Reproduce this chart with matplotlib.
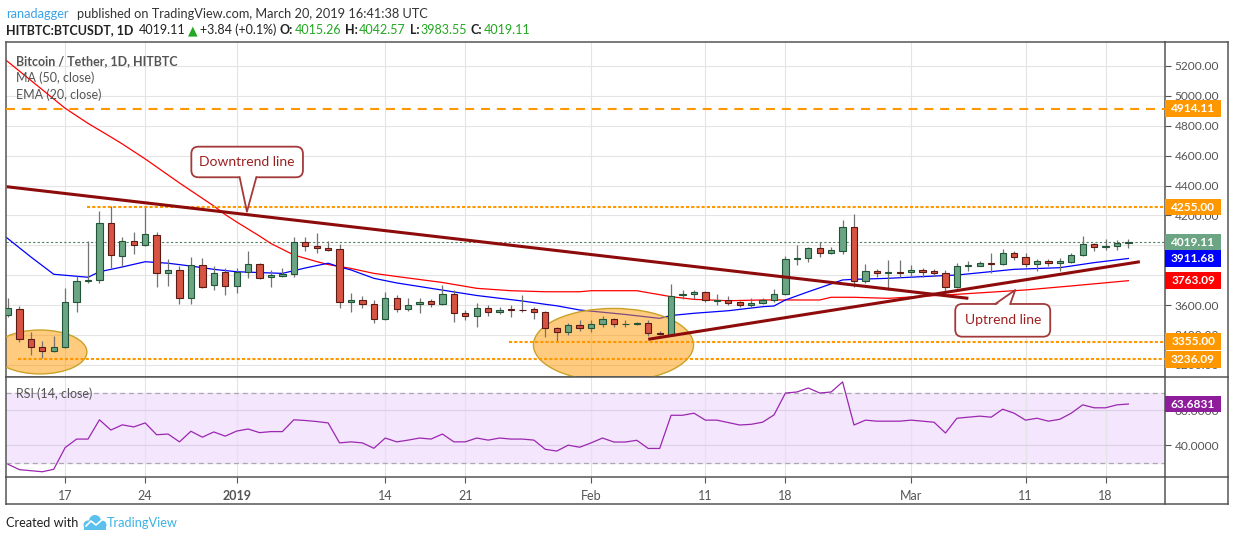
import matplotlib
matplotlib.use('Agg')
import matplotlib.pyplot as plt
from matplotlib.patches import Rectangle, Ellipse, FancyBboxPatch, Polygon, Circle
from matplotlib.lines import Line2D
import matplotlib.transforms as mtransforms
import pandas as pd

plt.rcParams['font.family'] = ['Lato', 'DejaVu Sans']

# ---------------- data ----------------
dates = pd.date_range('2018-12-12', '2019-03-20', freq='D')

opens = [3533, 3572, 3371, 3317, 3290, 3321, 3618, 3759, 3768, 4147,
         3926, 4027, 4000, 4067, 3813, 3835, 3645, 3866, 3732, 3821,
         3725, 3819, 3873, 3786, 3797, 3806, 4020, 3993, 3984, 3973,
         3618, 3632, 3605, 3505, 3645, 3572, 3605, 3627, 3605, 3674,
         3545, 3529, 3578, 3556, 3574, 3570, 3574, 3552, 3445, 3418,
         3465, 3445, 3472, 3505, 3470, 3472, 3478, 3411, 3400, 3665,
         3672, 3687, 3630, 3634, 3618, 3600, 3612, 3634, 3672, 3906,
         3913, 3980, 3946, 3964, 4120, 3759, 3826, 3813, 3821, 3818,
         3833, 3828, 3812, 3723, 3860, 3864, 3884, 3873, 3946, 3920,
         3873, 3895, 3880, 3888, 3935, 4009, 3987, 3995, 4015.26]
highs = [3645, 3594, 3418, 3359, 3393, 3712, 3794, 4029, 4228, 4263,
         4058, 4091, 4263, 4087, 3906, 3861, 3920, 3913, 3861, 3846,
         3846, 3962, 3880, 3835, 3850, 4053, 4053, 4080, 4030, 4009,
         3679, 3660, 3634, 3685, 3665, 3645, 3645, 3640, 3734, 3701,
         3567, 3614, 3600, 3585, 3600, 3667, 3585, 3562, 3456, 3478,
         3500, 3500, 3527, 3515, 3500, 3485, 3500, 3425, 3741, 3700,
         3700, 3695, 3674, 3660, 3627, 3650, 3650, 3705, 3928, 4002,
         3991, 4024, 3991, 4169, 4210, 3875, 3840, 3902, 3902, 3868,
         3850, 3840, 3835, 3884, 3896, 3896, 3946, 3973, 3960, 3946,
         3906, 3905, 3913, 3950, 4062, 4018, 4040, 4035, 4042.57]
lows = [3520, 3355, 3266, 3247, 3285, 3315, 3551, 3745, 3750, 3850,
        3863, 3944, 3995, 3723, 3727, 3607, 3607, 3712, 3701, 3667,
        3678, 3779, 3775, 3723, 3790, 3786, 3964, 3946, 3960, 3582,
        3556, 3580, 3482, 3500, 3555, 3562, 3549, 3585, 3600, 3489,
        3500, 3455, 3527, 3540, 3522, 3556, 3509, 3388, 3362, 3402,
        3426, 3420, 3456, 3450, 3452, 3465, 3393, 3400, 3398, 3641,
        3640, 3618, 3600, 3600, 3585, 3590, 3605, 3620, 3665, 3868,
        3890, 3920, 3940, 3942, 3719, 3750, 3790, 3701, 3790, 3790,
        3790, 3795, 3679, 3712, 3830, 3860, 3817, 3865, 3900, 3857,
        3828, 3860, 3830, 3880, 3930, 3964, 3968, 3968, 3983.55]
closes = [3578, 3371, 3317, 3290, 3317, 3618, 3759, 3768, 4147, 3933,
          4027, 4000, 4076, 3813, 3835, 3645, 3866, 3719, 3812, 3725,
          3821, 3873, 3779, 3799, 3806, 4020, 3993, 3984, 3966, 3618,
          3632, 3605, 3505, 3645, 3572, 3600, 3620, 3605, 3674, 3545,
          3529, 3578, 3556, 3570, 3569, 3566, 3552, 3445, 3418, 3465,
          3445, 3472, 3505, 3472, 3474, 3478, 3411, 3404, 3659, 3674,
          3687, 3634, 3634, 3616, 3600, 3612, 3634, 3672, 3906, 3913,
          3980, 3946, 3968, 4120, 3759, 3826, 3812, 3821, 3816, 3835,
          3820, 3812, 3723, 3861, 3868, 3884, 3878, 3946, 3920, 3873,
          3895, 3880, 3893, 3935, 4009, 3987, 3995, 4015, 4019.11]

# MA(50) read at candle positions
ma50_pos = [-1, 0, 5, 7, 9, 10, 12, 15, 18, 19, 20, 22, 23, 25, 27, 28, 30, 32,
            34, 38, 41, 44, 47, 50, 51, 55, 58, 60, 63, 66, 71, 72, 74, 77,
            83, 89, 93, 98]
ma50_val = [5290, 5228, 4917, 4816, 4725, 4678, 4578, 4417, 4263, 4206, 4156,
            4062, 4012, 3935, 3891, 3871, 3845, 3812, 3791, 3751, 3712, 3696,
            3689, 3689, 3696, 3696, 3656, 3638, 3629, 3634, 3634, 3652, 3652,
            3645, 3672, 3701, 3728, 3763.09]

# EMA(20) read at candle positions
ema20_pos = [-1, 0, 2, 4, 7, 8, 10, 12, 14, 16, 18, 20, 24, 26, 28, 29, 30, 32,
             34, 37, 41, 45, 47, 48, 50, 54, 57, 58, 60, 63, 66, 67, 68, 70,
             73, 74, 77, 81, 83, 88, 92, 95, 98]
ema20_val = [4100, 4044, 3922, 3806, 3786, 3823, 3855, 3890, 3880, 3861, 3839,
             3823, 3812, 3848, 3880, 3855, 3835, 3779, 3748, 3712, 3664, 3627,
             3605, 3595, 3567, 3537, 3511, 3530, 3545, 3562, 3589, 3594, 3634,
             3689, 3768, 3772, 3779, 3794, 3801, 3839, 3850, 3884, 3911.68]

# RSI(14)
rsi14 = [29.0, 25.9, 25.3, 24.7, 26.1, 38.6, 43.5, 43.5, 54.6, 48.7,
         51.7, 50.5, 52.8, 46.0, 46.4, 41.9, 48.0, 44.6, 47.6, 45.2,
         48.1, 49.3, 47.2, 47.8, 47.8, 54.6, 54.2, 53.6, 52.8, 41.3,
         41.9, 41.3, 38.2, 44.1, 41.9, 42.9, 44.1, 43.5, 46.4, 41.9,
         41.9, 44.1, 42.9, 44.1, 43.5, 43.5, 42.9, 37.6, 36.6, 40.0,
         38.8, 41.3, 44.1, 41.8, 41.8, 42.8, 38.1, 38.1, 57.2, 57.2,
         58.4, 54.4, 54.4, 53.0, 51.6, 52.0, 53.2, 57.4, 70.0, 70.6,
         72.9, 70.0, 70.6, 76.4, 51.6, 54.4, 53.8, 53.8, 53.8, 54.4,
         53.8, 53.2, 47.0, 55.5, 56.1, 56.7, 56.1, 60.7, 58.4, 54.4,
         55.5, 53.8, 54.9, 58.4, 63.2, 61.5, 61.5, 63.2, 63.6831]
rsi_upper, rsi_lower = 70, 30

tick_dates = ['2018-12-17', '2018-12-24', '2019-01-01', '2019-01-14', '2019-01-21',
              '2019-02-01', '2019-02-11', '2019-02-18', '2019-03-01', '2019-03-11',
              '2019-03-18']
tick_labels = ['17', '24', '2019', '14', '21', 'Feb', '11', '18', 'Mar', '11', '18']
price_ticks = [3200, 3400, 3600, 3800, 4000, 4200, 4400, 4600, 4800, 5000, 5200]
hidden_price_ticks = [4000]   # fully covered by the last-price tag in the reference

# horizontal levels: (value, start position, style)
level_values = [4914.11, 4255.00, 3355.00, 3236.09]
level_starts = [-0.2, 6.9, 43.8, 0.9]
level_dashed = [True, False, False, False]

# trend lines (position, price)
downtrend = [(-0.11, 4392), (84.0, 3645)]
uptrend = [(56.0, 3371), (99.0, 3890)]

# highlighted zones (centre position, centre price, width, height)
zones = [(2.8, 3286, 8.2, 294), (52.96, 3333, 14.0, 489)]

last_price = 4019.11

# ---------------- figure ----------------
W, H = 1234, 541
fig = plt.figure(figsize=(W / 100, H / 100), dpi=100)
fig.patch.set_facecolor('white')
renderer = fig.canvas.get_renderer()


def fx(x):
    return x / W


def fy(y):
    return 1 - y / H


L, R, T, M, B2, B3, RR = 6, 1165, 42, 376.7, 477.3, 504, 1228
SP = '#555555'
GRID = '#E4E4E4'

ax = fig.add_axes([fx(L), fy(M), fx(R) - fx(L), fy(T) - fy(M)])
axr = fig.add_axes([fx(L), fy(B2), fx(R) - fx(L), fy(M) - fy(B2)])

xpos = list(range(len(dates)))
tick_pos = [dates.get_loc(pd.Timestamp(d)) for d in tick_dates]

for a in (ax, axr):
    a.set_xlim(-0.175, 101.2)
    for s in a.spines.values():
        s.set_color(SP)
        s.set_linewidth(1.1)
    a.set_xticks(tick_pos)
    a.grid(True, color=GRID, lw=0.8, zorder=0)
    a.set_axisbelow(True)
    a.yaxis.tick_right()

ax.set_ylim(3120.5, 5360.6)
ax.tick_params(axis='x', length=0, labelbottom=False)
ax.set_yticks(price_ticks)
ax.set_yticklabels(['' if v in hidden_price_ticks else '%.2f' % v for v in price_ticks])
ax.tick_params(axis='y', direction='out', length=4, width=0.8, color=SP,
               labelcolor='#555555', labelsize=8.6, pad=3)

# candles
ups = [c >= o for o, c in zip(opens, closes)]
ax.vlines(xpos, lows, highs, color='#737373', lw=0.9, zorder=3)
ax.bar(xpos, [abs(c - o) for o, c in zip(opens, closes)],
       bottom=[min(o, c) for o, c in zip(opens, closes)], width=0.55,
       color=['#6BA583' if u else '#D75442' for u in ups],
       edgecolor=['#225437' if u else '#5B1A13' for u in ups],
       linewidth=0.8, zorder=4)

# moving averages
ax.plot(ma50_pos, ma50_val, color='#FF0000', lw=0.9, zorder=2.2)
ax.plot(ema20_pos, ema20_val, color='#0000FF', lw=0.9, zorder=2.2)

# zones
for cx, cy, w, h in zones:
    ax.add_patch(Ellipse((cx, cy), w, h, fc='#FF9800', alpha=0.5, ec='none', zorder=2.5))
    ax.add_patch(Ellipse((cx, cy), w, h, fc='none', ec='#C9A227', lw=1.0, zorder=2.6))

# last price line
ax.axhline(last_price, color='#4F7F60', lw=0.8, ls=(0, (2, 2)), zorder=1.5)

# levels
for v, s, d in zip(level_values, level_starts, level_dashed):
    ls = (0, (4.3, 3.3)) if d else (0, (1.5, 1.0))
    ax.plot([s, 101.2], [v, v], color='#FF9800', lw=1.5, ls=ls, zorder=5)

# trend lines
for ln in (downtrend, uptrend):
    ax.plot([ln[0][0], ln[1][0]], [ln[0][1], ln[1][1]], color='#8E0B0B', lw=2.2,
            zorder=5.5, solid_capstyle='butt')

# price tags
axw = R - L


def tag(a, value, text, color):
    y0, y1 = a.get_ylim()
    hpx = a.get_window_extent().height
    hd = 16.5 * (y1 - y0) / hpx
    tr = mtransforms.blended_transform_factory(a.transAxes, a.transData)
    a.add_patch(Rectangle((1.0, value - hd / 2), 56 / axw, hd, transform=tr,
                          clip_on=False, fc=color, ec='none', zorder=6))
    a.text(1.0 + 28 / axw, value, text, transform=tr, ha='center', va='center',
           color='white', fontsize=8.6, fontweight='bold', zorder=7, clip_on=False)


tag(ax, 4914.11, '4914.11', '#FF9800')
tag(ax, 4255.00, '4255.00', '#FF9800')
tag(ax, 4019.11, '4019.11', '#6BA583')
tag(ax, 3911.68, '3911.68', '#0000FF')
tag(ax, 3763.09, '3763.09', '#FF0000')
tag(ax, 3355.00, '3355.00', '#FF9800')
tag(ax, 3236.09, '3236.09', '#FF9800')

# ---------------- RSI panel ----------------
axr.set_ylim(21.5, 79.4)
axr.axhspan(rsi_lower, rsi_upper, color='#F3E6FD', zorder=0.5)
axr.set_yticks([40, 60])
axr.set_yticklabels(['40.0000', '60.0000'])
axr.grid(True, axis='y', color='#DCD0E6', lw=0.8)
for v in (rsi_upper, rsi_lower):
    axr.axhline(v, color='#AAAAAA', lw=0.9, ls=(0, (4, 3)), zorder=1)
axr.plot(xpos, rsi14, color='#9C27B0', lw=0.9, zorder=3)
axr.tick_params(axis='y', direction='out', length=4, width=0.8, color=SP,
                labelcolor='#555555', labelsize=8.6, pad=3)
axr.tick_params(axis='x', direction='out', length=4, width=0.8, color=SP,
                labelcolor='#555555', labelsize=9, pad=5)
axr.set_xticklabels(tick_labels)
for lab in axr.get_xticklabels():
    if lab.get_text() == '2019':
        lab.set_fontweight('bold')
tag(axr, rsi14[-1], '%.4f' % rsi14[-1], '#8E1C9B')

# ---------------- frame lines ----------------
def fline(x0, y0, x1, y1):
    fig.add_artist(Line2D([fx(x0), fx(x1)], [fy(y0), fy(y1)], color=SP, lw=1.1))


fline(R, T, RR, T)
fline(RR, T, RR, B3)
fline(R, M, RR, M)
fline(R, B2, RR, B2)
fline(L, B3, RR, B3)
fline(L, B2, L, B3)
fline(R, B2, R, B3)

# ---------------- callouts ----------------
ident = mtransforms.IdentityTransform()
CE = '#A33A3A'
CT = '#9C2020'


def callout(tip, box, base, text):
    tx, ty = ax.transData.transform(tip)
    l, r, t, b = box  # pixel offsets (y downward) relative to tip
    x0, x1 = tx + l, tx + r
    ytop, ybot = ty - t, ty - b
    fig.add_artist(FancyBboxPatch((x0, ybot), x1 - x0, ytop - ybot,
                                  boxstyle='round,pad=0,rounding_size=7',
                                  transform=ident, fc='white', ec=CE, lw=1.3, zorder=8))
    bl, br, on_bottom = base
    ey = ybot if on_bottom else ytop
    inward = 2 if on_bottom else -2
    fig.add_artist(Polygon([(tx + bl, ey + inward), (tx, ty), (tx + br, ey + inward)],
                           closed=True, transform=ident, fc='white', ec='none', zorder=9))
    fig.add_artist(Line2D([tx + bl, tx, tx + br], [ey, ty, ey], transform=ident,
                          color=CE, lw=1.3, zorder=9.5))
    fig.text((x0 + x1) / 2 / W, (ytop + ybot) / 2 / H, text, ha='center', va='center',
             color=CT, fontsize=10, zorder=10)


callout((20.9, 4225), (-55.6, 56, -65, -34.4), (-7.3, 9.4, True), 'Downtrend line')
callout((88.1, 3701), (-60, 35, 14, 46.7), (-20, -5, False), 'Uptrend line')

# ---------------- texts ----------------
fig.text(fx(15.5), fy(61), 'Bitcoin / Tether, 1D, HITBTC', color='#555555',
         fontsize=9, fontweight='bold', va='center')
fig.text(fx(15.5), fy(78), 'MA (50, close)', color='#555555', fontsize=9, va='center')
fig.text(fx(15.5), fy(94.5), 'EMA (20, close)', color='#555555', fontsize=9, va='center')
fig.text(fx(15.5), fy(394), 'RSI (14, close)', color='#555555', fontsize=9, va='center')

fig.text(fx(6), fy(13.5), 'ranadagger', color='#3BA2E6', fontsize=9.2, va='center')
fig.text(fx(77), fy(13.5), 'published on TradingView.com, March 20, 2019 16:41:38 UTC',
         color='#333333', fontsize=9.2, va='center')

GREEN = '#22A822'
# (text, colour, weight, gap in px before the next piece)
parts = [('HITBTC:BTCUSDT, 1D', '#222222', 'bold', 5),
         ('4019.11', '#222222', 'normal', 3),
         ('\u25B2', GREEN, 'normal', 2),
         ('+3.84 (+0.1%)', '#222222', 'normal', 4),
         ('O:', '#222222', 'bold', 1),
         ('4015.26', GREEN, 'normal', 4),
         ('H:', '#222222', 'bold', 1),
         ('4042.57', GREEN, 'normal', 4),
         ('L:', '#222222', 'bold', 1),
         ('3983.55', GREEN, 'normal', 4),
         ('C:', '#222222', 'bold', 1),
         ('4019.11', GREEN, 'normal', 0)]
xcur = 6
for s, c, w, gap in parts:
    t = fig.text(fx(xcur), fy(30), s, color=c, fontweight=w, fontsize=9.0, va='center')
    xcur += t.get_window_extent(renderer).width + gap

fig.text(fx(6), fy(523), 'Created with', color='#222222', fontsize=9.2, va='center')
for cx, cy, r in [(88, 525, 4.5), (95, 521, 6), (102, 525, 4.5)]:
    fig.add_artist(Circle((cx, H - cy), r, transform=ident, fc='#5BC0EB', ec='none'))
fig.add_artist(Rectangle((84, H - 529.5), 22, 5, transform=ident, fc='#5BC0EB', ec='none'))
fig.add_artist(Line2D([86, 91, 96, 103], [H - 526, H - 521, H - 525, H - 519],
                      transform=ident, color='white', lw=1.2))
fig.text(fx(107), fy(523), 'TradingView', color='#3BB3E4', fontsize=9.2, va='center')

fig.savefig('out.png', dpi=100, facecolor='white')
